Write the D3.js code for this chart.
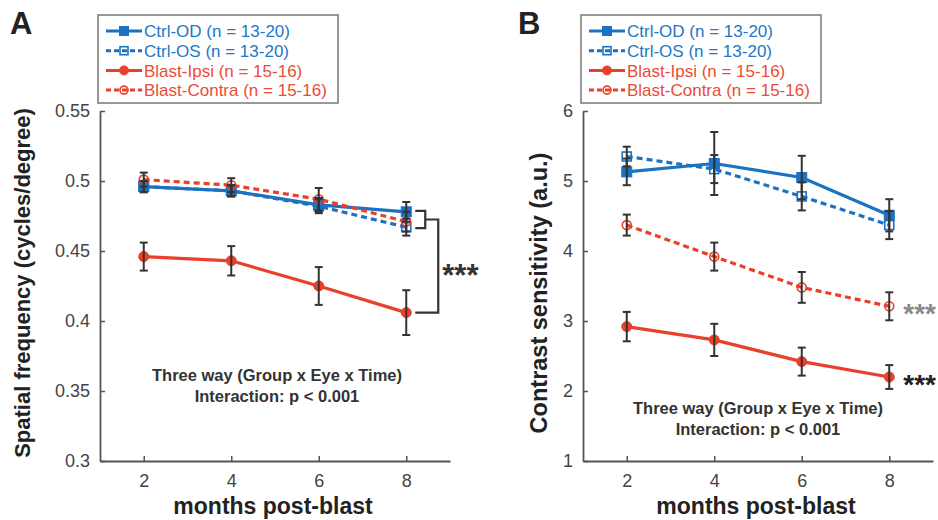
<!DOCTYPE html>
<html>
<head>
<meta charset="utf-8">
<script src="https://cdn.jsdelivr.net/npm/d3@7"></script>
<style>
  body { margin: 0; background: #fff; }
  svg { display: block; font-family: "Liberation Sans", Arial, sans-serif; }
</style>
</head>
<body>
<svg id="chart" width="938" height="520"></svg>
<script>
// ---------------- DATA ----------------
const months = [2, 4, 6, 8];
const xTickLabels = ["2", "4", "6", "8"];

const seriesNames = ["Ctrl-OD (n = 13-20)", "Ctrl-OS (n = 13-20)", "Blast-Ipsi (n = 15-16)", "Blast-Contra (n = 15-16)"];

// Panel A: spatial frequency (cycles/degree)
const sfCtrlOD = [0.496, 0.493, 0.483, 0.478];
const sfCtrlOS = [0.496, 0.493, 0.482, 0.467];
const sfBlastIpsi = [0.446, 0.443, 0.425, 0.406];
const sfBlastContra = [0.501, 0.497, 0.487, 0.471];
const sfErrCtrlOD = [0.004, 0.004, 0.005, 0.007];
const sfErrCtrlOS = [0.004, 0.004, 0.005, 0.006];
const sfErrBlastIpsi = [0.010, 0.0105, 0.0135, 0.016];
const sfErrBlastContra = [0.005, 0.005, 0.008, 0.007];
const sfTicks = [0.3, 0.35, 0.4, 0.45, 0.5, 0.55];
const sfTickLabels = ["0.3", "0.35", "0.4", "0.45", "0.5", "0.55"];

// Panel B: contrast sensitivity (a.u.)
const csCtrlOD = [5.13, 5.25, 5.05, 4.51];
const csCtrlOS = [5.35, 5.17, 4.78, 4.37];
const csBlastIpsi = [2.92, 2.73, 2.42, 2.20];
const csBlastContra = [4.37, 3.92, 3.48, 3.21];
const csErrCtrlOD = [0.19, 0.45, 0.31, 0.23];
const csErrCtrlOS = [0.14, 0.20, 0.20, 0.20];
const csErrBlastIpsi = [0.21, 0.23, 0.20, 0.17];
const csErrBlastContra = [0.15, 0.20, 0.22, 0.20];
const csTicks = [1, 2, 3, 4, 5, 6];
const csTickLabels = ["1", "2", "3", "4", "5", "6"];

// ---------------- STYLE ----------------
const BLUE = "#1c72c2";
const RED = "#ea3f2a";
const BLUE_TXT = "#2178c6";
const RED_TXT = "#ea4c36";
const AXIS = "#555";
const styles = [
  { color: BLUE, txt: BLUE_TXT, dash: null, shape: "square", filled: true },
  { color: BLUE, txt: BLUE_TXT, dash: "6,4", shape: "square", filled: false },
  { color: RED, txt: RED_TXT, dash: null, shape: "circle", filled: true },
  { color: RED, txt: RED_TXT, dash: "6,4", shape: "circle", filled: false }
];

const svg = d3.select("#chart");

function marker(g, shape, filled, color, cx, cy, size) {
  if (shape === "square") {
    g.append("rect").attr("x", cx - size / 2).attr("y", cy - size / 2)
      .attr("width", size).attr("height", size)
      .attr("fill", filled ? color : "none").attr("stroke", color).attr("stroke-width", filled ? 1 : 1.6);
  } else {
    g.append("circle").attr("cx", cx).attr("cy", cy).attr("r", size / 2)
      .attr("fill", filled ? color : "none").attr("stroke", color).attr("stroke-width", filled ? 1 : 1.6);
  }
}

function panel(cfg) {
  const x = d3.scaleLinear().domain([1, 9]).range([cfg.x0, cfg.x0 + 350]);
  const y = d3.scaleLinear().domain(cfg.yDomain).range([461, 111]);
  const g = svg.append("g");

  // axes
  const xAxis = d3.axisBottom(x).tickValues(months).tickFormat((d, i) => xTickLabels[i])
    .tickSizeInner(-5).tickSizeOuter(0).tickPadding(10);
  const gx = g.append("g").attr("transform", `translate(0,461)`).call(xAxis);
  const yAxis = d3.axisLeft(y).tickValues(cfg.ticks).tickFormat((d, i) => cfg.tickLabels[i])
    .tickSizeInner(-5).tickSizeOuter(0).tickPadding(10);
  const gy = g.append("g").attr("transform", `translate(${cfg.x0},0)`).call(yAxis);
  [gx, gy].forEach(a => {
    a.select(".domain").attr("stroke", AXIS).attr("stroke-width", 1.8);
    a.selectAll(".tick line").attr("stroke", AXIS).attr("stroke-width", 1.5);
    a.selectAll(".tick text").attr("fill", "#444").attr("font-size", 18)
      .attr("font-family", "Liberation Sans, Arial, sans-serif");
  });
  gx.selectAll(".tick text").attr("dy", "0.9em");

  // series
  cfg.series.forEach((vals, si) => {
    const st = styles[si];
    const line = d3.line().x((d, i) => x(months[i])).y(d => y(d));
    g.append("path").datum(vals).attr("d", line).attr("fill", "none")
      .attr("stroke", st.color).attr("stroke-width", 3.2)
      .attr("stroke-dasharray", st.dash);
    vals.forEach((v, i) => marker(g, st.shape, st.filled, st.color, x(months[i]), y(v), st.filled ? 10 : 9));
  });
  // error bars on top
  cfg.series.forEach((vals, si) => {
    const errs = cfg.errs[si];
    vals.forEach((v, i) => {
      const cx = x(months[i]);
      const yt = y(v + errs[i]), yb = y(v - errs[i]);
      g.append("line").attr("x1", cx).attr("x2", cx).attr("y1", yt).attr("y2", yb)
        .attr("stroke", "#333").attr("stroke-width", 2);
      [yt, yb].forEach(yy => g.append("line").attr("x1", cx - 4).attr("x2", cx + 4)
        .attr("y1", yy).attr("y2", yy).attr("stroke", "#333").attr("stroke-width", 2));
    });
  });

  // legend
  const lg = g.append("g");
  lg.append("rect").attr("x", cfg.x0 - 2).attr("y", 15).attr("width", 240).attr("height", 88)
    .attr("fill", "#fff").attr("stroke", "#777").attr("stroke-width", 1.5);
  seriesNames.forEach((name, si) => {
    const st = styles[si];
    const yy = 31 + si * 19.7;
    lg.append("line").attr("x1", cfg.x0 + 6).attr("x2", cfg.x0 + 42).attr("y1", yy).attr("y2", yy)
      .attr("stroke", st.color).attr("stroke-width", 3).attr("stroke-dasharray", st.dash ? "5,3" : null);
    marker(lg, st.shape, st.filled, st.color, cfg.x0 + 24, yy, st.filled ? 9 : 8);
    lg.append("text").attr("x", cfg.x0 + 44).attr("y", yy).attr("dy", "0.36em")
      .attr("font-size", 17).attr("fill", st.txt).text(name);
  });

  // panel letter
  g.append("text").attr("x", cfg.letterX).attr("y", 34).attr("font-size", 31)
    .attr("font-weight", "bold").attr("fill", "#222").text(cfg.letter);

  // axis titles
  g.append("text").attr("transform", `translate(${cfg.yTitleX},${cfg.yTitleY}) rotate(-90)`)
    .attr("text-anchor", "middle").attr("font-size", cfg.yTitleSize).attr("font-weight", "bold")
    .attr("fill", "#222").text(cfg.yTitle);
  g.append("text").attr("x", x(5) - 2).attr("y", 514).attr("text-anchor", "middle")
    .attr("font-size", 23).attr("font-weight", "bold").attr("fill", "#222").text("months post-blast");

  // annotation
  cfg.note.forEach((t, i) => g.append("text").attr("x", cfg.noteX).attr("y", cfg.noteY + i * 21)
    .attr("text-anchor", "middle").attr("font-size", 16.5).attr("font-weight", "bold")
    .attr("fill", "#333").text(t));
  return { x, y, g };
}

const note = ["Three way (Group x Eye x Time)", "Interaction: p < 0.001"];

const A = panel({
  x0: 100, yDomain: [0.3, 0.55], ticks: sfTicks, tickLabels: sfTickLabels,
  series: [sfCtrlOD, sfCtrlOS, sfBlastIpsi, sfBlastContra],
  errs: [sfErrCtrlOD, sfErrCtrlOS, sfErrBlastIpsi, sfErrBlastContra],
  letter: "A", letterX: 10, yTitle: "Spatial frequency (cycles/degree)", yTitleX: 30, yTitleY: 283, yTitleSize: 22,
  note, noteX: 277, noteY: 381
});
const B = panel({
  x0: 583, yDomain: [1, 6], ticks: csTicks, tickLabels: csTickLabels,
  series: [csCtrlOD, csCtrlOS, csBlastIpsi, csBlastContra],
  errs: [csErrCtrlOD, csErrCtrlOS, csErrBlastIpsi, csErrBlastContra],
  letter: "B", letterX: 518, yTitle: "Contrast sensitivity (a.u.)", yTitleX: 547, yTitleY: 293, yTitleSize: 23.5,
  note, noteX: 758, noteY: 414
});

// significance bracket (panel A)
{
  const { x, y, g } = A;
  const xb = x(8) + 10, xv = x(8) + 32;
  const yTop = y(sfCtrlOD[3]) - 1, yBot = y(sfCtrlOS[3]) + 1, yMid = (yTop + yBot) / 2;
  const yIpsi = y(sfBlastIpsi[3]);
  const p = d3.path();
  p.moveTo(x(8) + 9, yTop); p.lineTo(xb + 9, yTop); p.lineTo(xb + 9, yBot); p.lineTo(x(8) + 9, yBot);
  p.moveTo(xb + 9, yMid); p.lineTo(xv, yMid); p.lineTo(xv, yIpsi); p.lineTo(x(8) + 9, yIpsi);
  g.append("path").attr("d", p.toString()).attr("fill", "none").attr("stroke", "#333").attr("stroke-width", 2.2);
  g.append("text").attr("x", xv + 4).attr("y", (yMid + yIpsi) / 2 + 20).attr("font-size", 31)
    .attr("font-weight", "bold").attr("fill", "#333").text("***");
}
// stars panel B
{
  const { x, y, g } = B;
  g.append("text").attr("x", x(8) + 14).attr("y", y(csBlastContra[3]) + 17).attr("font-size", 28)
    .attr("font-weight", "bold").attr("fill", "#8a8a8a").text("***");
  g.append("text").attr("x", x(8) + 14).attr("y", y(csBlastIpsi[3]) + 17).attr("font-size", 28)
    .attr("font-weight", "bold").attr("fill", "#222").text("***");
}
</script>
</body>
</html>
